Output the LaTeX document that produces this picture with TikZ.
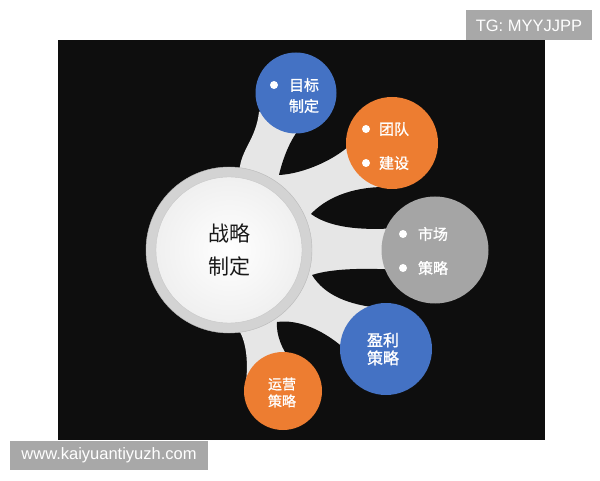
\documentclass[tikz,border=0pt]{standalone}
\usepackage{fontspec}
\setmainfont{Liberation Sans}
\newfontfamily\zhfont{Noto Sans CJK SC}
\newfontfamily\zhbold[FakeBold=1.2]{Noto Sans CJK SC}
\usepackage{tikz}
\usetikzlibrary{
	positioning
}
\definecolor{panel}{HTML}{0E0E0E}
\definecolor{stem}{HTML}{E6E6E6}
\definecolor{ringgray}{HTML}{D3D3D3}
\definecolor{cblue}{HTML}{4472C4}
\definecolor{corange}{HTML}{ED7D31}
\definecolor{cgray}{HTML}{A5A5A5}
\definecolor{taggray}{HTML}{A8A8A8}

\begin{document}
\begin{tikzpicture}[x=1pt,y=1pt,
		hub/.style={circle,minimum size=146pt,inner sep=0pt,align=center,
			shade,inner color=white,outer color=gray!12,draw=gray!45,
			text=black!90,font=\zhfont\fontsize{21}{33}\selectfont},
		bubble/.style={circle,inner sep=0pt},
		txt/.style={inner sep=0pt,align=center,text=white},
		tag/.style={fill=taggray,text=white,inner sep=0pt,font=\fontsize{16.5}{18}\selectfont}
	]
	\useasboundingbox (0,0) rectangle (600,480);
	\fill[panel] (58,40) rectangle (545,440);

	\coordinate (s0) at (229,230);
	\coordinate[above right=157pt and 67pt of s0] (s1);
	\coordinate[above right=107pt and 163pt of s0] (s2);
	\coordinate[right=206pt of s0] (s3);
	\coordinate[below right=99pt and 157pt of s0] (s4);
	\coordinate[below right=141pt and 54pt of s0] (s5);

	% stems
	\fill[stem] (s0) -- (240,314) .. controls (243,332) and (256,342) .. (259,368)
		-- (s1) -- (s2) -- (s3) -- (s4) -- (s5)
		-- (246,98) .. controls (248,115) and (247,135) .. (240,148) -- cycle;

	% gaps between the stems
	\fill[panel] (279,305) .. controls (283,322) and (290,340) .. (300,352)
		-- (s1) -- (365,400) -- (s2) -- (355,340) .. controls (337,320) and (302,306) .. (279,305) -- cycle;
	\fill[panel] (311,266) .. controls (325,281) and (350,293) .. (385,293)
		-- (s2) -- (440,300) -- (s3) -- (398,252) .. controls (370,250) and (333,250) .. (311,266) -- cycle;
	\fill[panel] (312,205) .. controls (333,212) and (370,212) .. (398,210)
		-- (s3) -- (440,160) -- (s4) -- (380,172) .. controls (350,175) and (325,184) .. (312,205) -- cycle;
	\fill[panel] (277,158) .. controls (298,161) and (325,150) .. (348,128)
		-- (s4) -- (345,80) -- (s5) -- (292,118) .. controls (282,130) and (276,145) .. (277,158) -- cycle;

	% centre
	\filldraw[fill=ringgray,draw=gray!55] (s0) circle (83);
	\node[hub] (c0) at (s0) {战略\\制定};

	\node[bubble,fill=cblue,minimum size=81pt]   (b1) at (s1) {};
	\node[bubble,fill=corange,minimum size=92pt] (b2) at (s2) {};
	\node[bubble,fill=cgray,minimum size=107pt]  (b3) at (s3) {};
	\node[bubble,fill=cblue,minimum size=92pt]   (b4) at (s4) {};
	\node[bubble,fill=corange,minimum size=78pt] (b5) at (s5) {};

	\node[txt,font=\zhbold\fontsize{15}{21}\selectfont] (t1) at ([xshift=8pt,yshift=-2.5pt]b1) {目标\\制定};
	\node[txt,font=\zhbold\fontsize{15}{34}\selectfont] (t2) at ([xshift=2pt,yshift=-3pt]b2) {团队\\建设};
	\node[txt,font=\zhbold\fontsize{15}{34}\selectfont] (t3) at ([xshift=-2pt,yshift=-1pt]b3) {市场\\策略};
	\node[txt,font=\zhbold\fontsize{16}{18}\selectfont] (t4) at ([xshift=-3pt]b4) {盈利\\策略};
	\node[txt,font=\zhbold\fontsize{14}{17}\selectfont] (t5) at ([xshift=-1pt,yshift=-1.5pt]b5) {运营\\策略};

	% bullets
	\foreach \p in {(274,395),(366,351),(366,317),(403,246),(403,212)}
		\fill[white] \p circle (4);

	\node[tag,minimum width=126pt,minimum height=30pt] (g1) at (529,454.5) {TG: MYYJJPP};
	\node[tag,minimum width=198pt,minimum height=29pt] (g2) at (109,24.5) {www.kaiyuantiyuzh.com};
\end{tikzpicture}
\end{document}
